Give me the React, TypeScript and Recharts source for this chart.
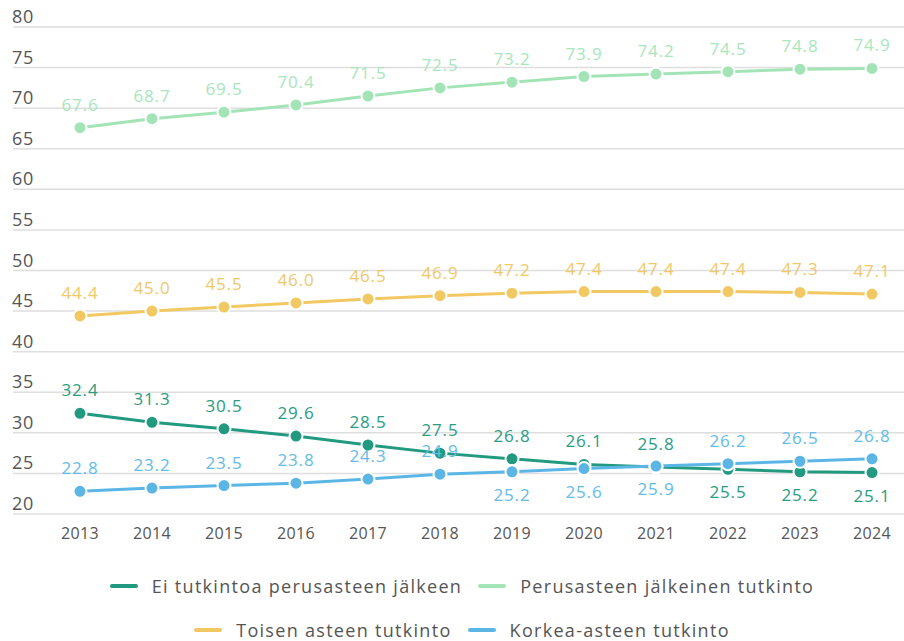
import React from "react";
import { LineChart, Line, XAxis, YAxis, CartesianGrid, LabelList } from "recharts";

const years = ["2013", "2014", "2015", "2016", "2017", "2018", "2019", "2020", "2021", "2022", "2023", "2024"];
const eiTutkintoa = [32.4, 31.3, 30.5, 29.6, 28.5, 27.5, 26.8, 26.1, 25.8, 25.5, 25.2, 25.1];
const perusasteenJalkeinen = [67.6, 68.7, 69.5, 70.4, 71.5, 72.5, 73.2, 73.9, 74.2, 74.5, 74.8, 74.9];
const toisenAsteen = [44.4, 45.0, 45.5, 46.0, 46.5, 46.9, 47.2, 47.4, 47.4, 47.4, 47.3, 47.1];
const korkeaAsteen = [22.8, 23.2, 23.5, 23.8, 24.3, 24.9, 25.2, 25.6, 25.9, 26.2, 26.5, 26.8];
const yTicks = [20, 25, 30, 35, 40, 45, 50, 55, 60, 65, 70, 75, 80];

const seriesNames = [
  "Ei tutkintoa perusasteen jälkeen",
  "Perusasteen jälkeinen tutkinto",
  "Toisen asteen tutkinto",
  "Korkea-asteen tutkinto",
];
const seriesKeys = ["ei", "perus", "toinen", "korkea"];
const seriesColors = ["#229a80", "#a2e4b5", "#f2c862", "#5bb6e6"];
const labelColors = ["#2a9c82", "#a8e6bb", "#f0c868", "#64bbe8"];
const belowIdx: Record<string, number[]> = {
  ei: [9, 10, 11],
  perus: [],
  toinen: [],
  korkea: [6, 7, 8],
};

const data = years.map((y, i) => ({
  year: y,
  ei: eiTutkintoa[i],
  perus: perusasteenJalkeinen[i],
  toinen: toisenAsteen[i],
  korkea: korkeaAsteen[i],
}));

const FONT = "'Open Sans', sans-serif";

const YTick = (props: any) => {
  const { y, payload } = props;
  return (
    <text x={12} y={y - 4} fill="#555" fontSize={18} letterSpacing={0.6} fontFamily={FONT} textAnchor="start">
      {payload.value}
    </text>
  );
};

const XTick = (props: any) => {
  const { x, y, payload } = props;
  return (
    <text x={x} y={y + 17} fill="#555" fontSize={16} letterSpacing={0.4} fontFamily={FONT} textAnchor="middle">
      {payload.value}
    </text>
  );
};

const makeLabel = (key: string, color: string) => (props: any) => {
  const { x, y, value, index } = props;
  const below = belowIdx[key].includes(index);
  return (
    <text
      x={x}
      y={below ? y + 29 : y - 17}
      fill={color}
      fontSize={17}
      letterSpacing={0.8}
      fontFamily={FONT}
      textAnchor="middle"
    >
      {Number(value).toFixed(1)}
    </text>
  );
};

const LegendItem = ({ i }: { i: number }) => (
  <div style={{ display: "flex", alignItems: "center", margin: "0 8px" }}>
    <div style={{ width: 28, height: 4, borderRadius: 2, background: seriesColors[i], marginRight: 14 }} />
    <span style={{ fontFamily: FONT, fontSize: 18, letterSpacing: 1.3, lineHeight: "22px", color: "#555" }}>
      {seriesNames[i]}
    </span>
  </div>
);

export default function App() {
  return (
    <div style={{ position: "absolute", left: 0, top: 0, width: 904, height: 641, background: "#fff" }}>
      <LineChart
        width={904}
        height={641}
        data={data}
        margin={{ top: 27, right: 0, left: 0, bottom: 87 }}
      >
        <CartesianGrid vertical={false} stroke="#dedede" strokeWidth={1.5} />
        <XAxis
          dataKey="year"
          axisLine={false}
          tickLine={false}
          tick={<XTick />}
          height={40}
          padding={{ left: 67, right: 32 }}
          interval={0}
        />
        <YAxis
          width={13}
          domain={[20, 80]}
          ticks={yTicks}
          axisLine={false}
          tickLine={false}
          tick={<YTick />}
          interval={0}
        />
        {seriesKeys.map((k, i) => (
          <Line
            key={k}
            dataKey={k}
            name={seriesNames[i]}
            stroke={seriesColors[i]}
            strokeWidth={3}
            dot={{ r: 6.5, fill: seriesColors[i], stroke: "#fff", strokeWidth: 2 }}
            activeDot={false}
            isAnimationActive={false}
          >
            <LabelList dataKey={k} content={makeLabel(k, labelColors[i])} />
          </Line>
        ))}
      </LineChart>
      <div style={{ position: "absolute", left: 0, top: 575, width: 924, height: 22, display: "flex", justifyContent: "center" }}>
        <LegendItem i={0} />
        <LegendItem i={1} />
      </div>
      <div style={{ position: "absolute", left: 0, top: 619, width: 924, height: 22, display: "flex", justifyContent: "center" }}>
        <LegendItem i={2} />
        <LegendItem i={3} />
      </div>
    </div>
  );
}
